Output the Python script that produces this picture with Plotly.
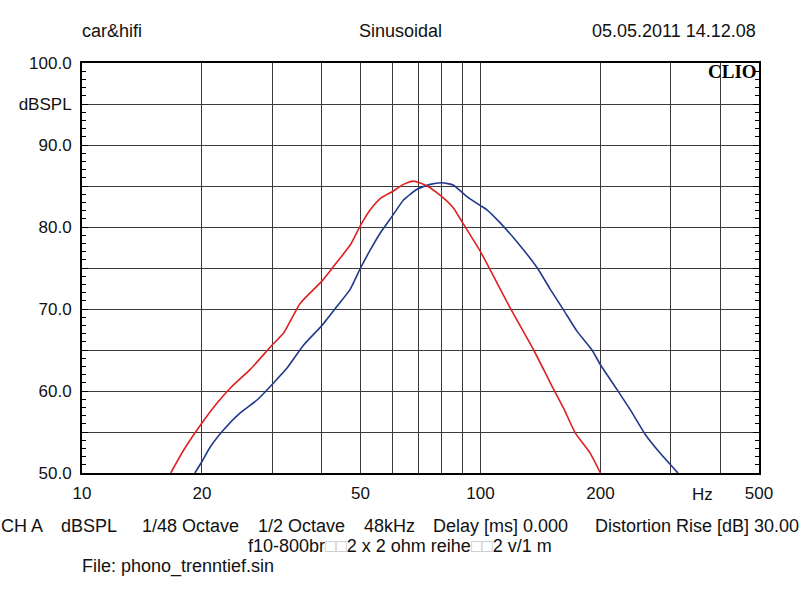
import math
import plotly.graph_objects as go

# ---- data ----
red_freq = [16.7, 18.0, 20, 21.8, 23.6, 26.4, 30, 32.1, 35.3, 40, 42.8, 47.1, 50, 52.9, 56.1, 60,
            64.1, 68, 73.4, 80, 85.6, 90, 100, 110, 118.8, 136, 149.7, 161.6, 172.9, 188.6, 200]
red_db = [50, 52.8, 56.1, 58.5, 60.4, 62.6, 65.6, 67.1, 70.7, 73.4, 75.2, 77.8, 80.2, 82.1, 83.5, 84.3,
          85.2, 85.6, 85.0, 83.7, 82.3, 80.6, 77.0, 73.2, 70.1, 65.0, 61.0, 57.9, 54.9, 52.4, 50.0]

blue_freq = [19.2, 20, 21.0, 22.7, 24.9, 27.5, 30, 32.7, 36.0, 40, 43.6, 47.1, 50, 52.9, 56.1, 60,
             64.1, 69.3, 74.8, 80, 85.6, 92.5, 100, 103.8, 112.1, 123.4, 138.9, 149.7, 161.6, 174.6,
             190.5, 200, 220, 237.7, 259.2, 282.6, 313]
blue_db = [50, 51.4, 53.2, 55.3, 57.3, 58.9, 60.8, 62.8, 65.6, 68.0, 70.3, 72.4, 75.0, 77.2, 79.3, 81.3,
           83.3, 84.6, 85.2, 85.4, 85.1, 83.7, 82.6, 82.1, 80.5, 78.2, 75.0, 72.4, 69.9, 67.3,
           65.0, 63.2, 60.2, 57.7, 54.7, 52.4, 50.0]

x_grid_vals = [10, 20, 30, 40, 50, 60, 70, 80, 90, 100, 200, 300, 400, 500]
x_grid_text = ["10", "20", "", "", "50", "", "", "", "", "100", "200", "", "", "500"]
y_grid_vals = [50, 55, 60, 65, 70, 75, 80, 85, 90, 95, 100]
y_grid_text = ["50.0", "", "60.0", "", "70.0", "", "80.0", "", "90.0", "dBSPL", "100.0"]

FONT = "Liberation Sans, Arial, sans-serif"

fig = go.Figure()
fig.add_trace(go.Scatter(x=blue_freq, y=blue_db, mode="lines",
                         line=dict(color="#1f3a8c", width=1.6, shape="spline", smoothing=0.5),
                         showlegend=False))
fig.add_trace(go.Scatter(x=red_freq, y=red_db, mode="lines",
                         line=dict(color="#e02020", width=1.6, shape="spline", smoothing=0.5),
                         showlegend=False))

fig.update_layout(
    width=800, height=600,
    margin=dict(l=82, r=41, t=63, b=127),
    paper_bgcolor="white", plot_bgcolor="white",
    font=dict(family=FONT, size=17, color="#111"),
    xaxis=dict(type="log", range=[1, math.log10(500)], tickvals=x_grid_vals, ticktext=x_grid_text,
               showgrid=True, gridcolor="#3a3a3a", gridwidth=1, ticks="", zeroline=False,
               showline=True, linecolor="black", linewidth=2, mirror=True,
               tickfont=dict(size=17), ticklabelstandoff=4),
    yaxis=dict(range=[50, 100], tickvals=y_grid_vals, ticktext=y_grid_text,
               showgrid=True, gridcolor="#3a3a3a", gridwidth=1, zeroline=False,
               ticks="inside", ticklen=6, tickcolor="black",
               minor=dict(dtick=1, ticks="inside", ticklen=4, tickcolor="black", showgrid=False),
               showline=True, linecolor="black", linewidth=2, mirror="ticks",
               tickfont=dict(size=17), ticklabelstandoff=5),
)

def px2paper(px, py):
    return (px - 82) / 677, (473 - py) / 410

def ann(text, px, py, anchor="left", size=18, family=FONT, color="#111"):
    x, y = px2paper(px, py)
    fig.add_annotation(text=text, x=x, y=y, xref="paper", yref="paper", showarrow=False,
                       xanchor=anchor, yanchor="middle", font=dict(family=family, size=size, color=color))

ann("car&hifi", 80, 31)
ann("Sinusoidal", 400, 31, "center")
ann("05.05.2011 14.12.08", 758, 31, "right")
ann("Hz", 702, 494, "center", size=17)
ann("<b>CLIO</b>", 759, 71, "right", size=19, family="Liberation Serif, Times New Roman, serif", color="black")

ann("CH A", -1, 526)
ann("dBSPL", 59, 526)
ann("1/48 Octave", 140, 526)
ann("1/2 Octave", 256, 526)
ann("48kHz", 362, 526)
ann("Delay [ms] 0.000", 431, 526)
ann("Distortion Rise [dB] 30.00", 593, 526)
ann("f10-800br<span style='color:#c8c8c8'>□□</span>2 x 2 ohm reihe<span style='color:#c8c8c8'>□□</span>2 v/1 m",
    400, 546, "center")
ann("File: phono_trenntief.sin", 80, 566)

fig.write_html("out.html", config={"displayModeBar": False},
               post_script="document.body.style.margin='0';document.body.style.overflow='hidden';")
